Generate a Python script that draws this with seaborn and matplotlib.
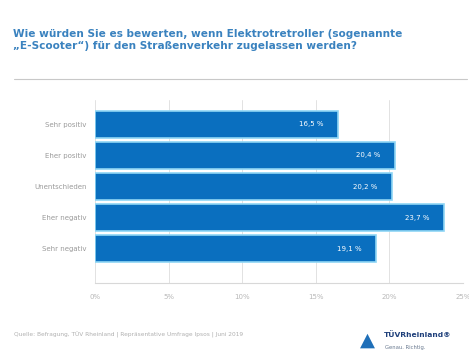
import matplotlib
matplotlib.use("Agg")
import matplotlib.pyplot as plt
import seaborn as sns
import pandas as pd

categories = ["Sehr positiv", "Eher positiv", "Unentschieden", "Eher negativ", "Sehr negativ"]
values = [16.5, 20.4, 20.2, 23.7, 19.1]
value_labels = ["16,5 %", "20,4 %", "20,2 %", "23,7 %", "19,1 %"]
x_ticks = [0, 5, 10, 15, 20, 25]
x_tick_labels = ["0%", "5%", "10%", "15%", "20%", "25%"]

sns.set_theme(style="white")
plt.rcParams['font.family'] = ['DejaVu Sans']

df = pd.DataFrame({"cat": categories, "val": values})

fig = plt.figure(figsize=(4.69, 3.58), dpi=100)
ax = fig.add_axes([0.203, 0.21, 0.784, 0.51])

sns.barplot(data=df, y="cat", x="val", orient="h", color="#0a6fbf",
            saturation=1, width=0.87, edgecolor="#8fd6f5", linewidth=1.2, ax=ax)

for i, (v, lab) in enumerate(zip(values, value_labels)):
    ax.text(v - 1.0, i, lab, color="white", fontsize=5, ha="right", va="center")

ax.set_xlim(0, 25)
ax.set_ylim(5.09, -0.77)
ax.set_xticks(x_ticks)
ax.set_xticklabels(x_tick_labels, fontsize=5, color="#b8b8b8")
ax.tick_params(axis="y", labelsize=5, labelcolor="#9a9a9a", length=0, pad=6)
ax.tick_params(axis="x", length=0, pad=8)
ax.set_xlabel("")
ax.set_ylabel("")
ax.grid(axis="x", color="#e2e2e2", linewidth=0.7)
ax.set_axisbelow(True)
for s in ["top", "right", "left"]:
    ax.spines[s].set_visible(False)
ax.spines["bottom"].set_color("#d8d8d8")
ax.spines["bottom"].set_linewidth(0.8)

fig.text(0.028, 0.918, "Wie würden Sie es bewerten, wenn Elektrotretroller (sogenannte\n"
         "\u201eE-Scooter\u201c) für den Straßenverkehr zugelassen werden?",
         fontsize=7.6, fontweight="bold", color="#3a82bf", ha="left", va="top",
         linespacing=1.15)
fig.add_artist(plt.Line2D([0.03, 0.995], [0.78, 0.78], color="#c8c8c8", linewidth=0.8))

fig.text(0.03, 0.064, "Quelle: Befragung, TÜV Rheinland | Repräsentative Umfrage Ipsos | Juni 2019",
         fontsize=4.2, color="#b0b0b0", ha="left", va="center")

fig.text(0.783, 0.05, "\u25B2", fontsize=14, color="#1f6fb8", ha="center", va="center")
fig.text(0.818, 0.066, "TÜVRheinland\u00AE", fontsize=5.4, fontweight="bold", color="#1e3f7a",
         ha="left", va="center")
fig.text(0.82, 0.03, "Genau. Richtig.", fontsize=3.8, color="#6a7a90", ha="left", va="center")

fig.savefig("out.png", dpi=100, facecolor="white")
